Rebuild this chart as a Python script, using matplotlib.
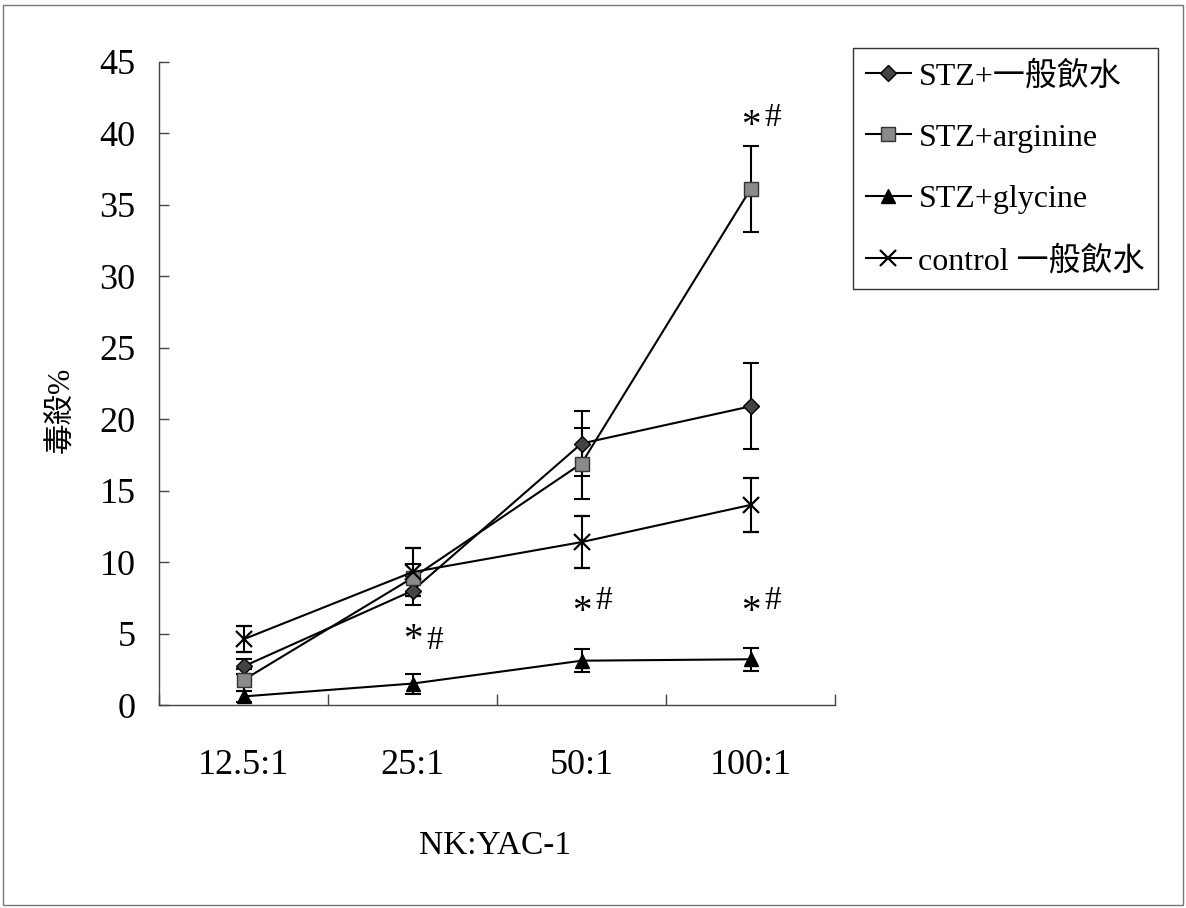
import matplotlib
matplotlib.use('Agg')
import matplotlib.pyplot as plt
from matplotlib.patches import Rectangle
from matplotlib.lines import Line2D

plt.rcParams['font.family'] = ['Liberation Serif', 'Noto Sans CJK TC']

ratios = ['12.5:1', '25:1', '50:1', '100:1']
stz_water = [2.7, 8.0, 18.3, 20.9]
stz_water_err = [0.5, 1.0, 2.3, 3.0]
stz_arg = [1.75, 8.9, 16.9, 36.1]
stz_arg_err = [0.8, 1.0, 2.5, 3.0]
stz_gly = [0.6, 1.5, 3.1, 3.2]
stz_gly_err = [0.4, 0.7, 0.8, 0.8]
control = [4.6, 9.3, 11.4, 14.0]
control_err = [0.9, 1.7, 1.8, 1.9]

# significance marks: (category index, y of "*", y of "#")
sig_marks = [(1, 4.5, 4.5), (2, 6.5, 7.3), (3, 6.5, 7.3), (3, 40.5, 41.1)]

fig = plt.figure(figsize=(11.86, 9.08), dpi=100)
ax = fig.add_axes([159 / 1186, 1 - 705 / 908, (835 - 159) / 1186, (705 - 62) / 908])

x = list(range(len(ratios)))
series = [
    (stz_water, stz_water_err, 'STZ+一般飲水', dict(marker='D', markersize=8, markerfacecolor='#444444', markeredgecolor='black')),
    (stz_arg, stz_arg_err, 'STZ+arginine', dict(marker='s', markersize=10, markerfacecolor='#8a8a8a', markeredgecolor='#333333')),
    (stz_gly, stz_gly_err, 'STZ+glycine', dict(marker='^', markersize=10, markerfacecolor='black', markeredgecolor='black')),
    (control, control_err, 'control 一般飲水', dict(marker='x', markersize=12, markeredgewidth=1.6, markeredgecolor='black')),
]
handles = []
for vals, errs, label, style in series:
    ax.errorbar(x, vals, yerr=errs, color='black', lw=1.5, capsize=6, capthick=1.5,
                elinewidth=1.5, **style)
    handles.append(Line2D([], [], color='black', lw=1.5, label=label, **style))

for i, ys, yh in sig_marks:
    ax.text(i, ys, '*', fontsize=28, ha='center', va='center')
    ax.text(i + 0.13, yh, '#', fontsize=24, ha='center', va='center')

ax.set_xlim(-0.5, 3.5)
ax.set_ylim(0, 45)
ax.set_yticks(range(0, 46, 5))
ax.set_xticks(x)
ax.set_xticklabels(ratios)
ax.set_xticks([-0.5, 0.5, 1.5, 2.5, 3.5], minor=True)
ax.tick_params(axis='x', which='major', length=0, pad=32, labelsize=26)
ax.tick_params(axis='x', which='minor', direction='in', length=8, width=1, color='#444444')
ax.tick_params(axis='y', direction='in', length=7, width=1, color='#444444', pad=17, labelsize=26)
for s in ['top', 'right']:
    ax.spines[s].set_visible(False)
for s in ['left', 'bottom']:
    ax.spines[s].set_color('#444444')
    ax.spines[s].set_linewidth(1)

fig.text(62 / 1186, 1 - 410 / 908, '毒殺%', rotation=90, fontsize=22, ha='center', va='center')
fig.text(495 / 1186, 1 - 846 / 908, 'NK:YAC-1', fontsize=24, ha='center', va='center')

leg = ax.legend(handles=handles, loc='upper left', bbox_to_anchor=(853 / 1186, 1 - 48 / 908),
                bbox_transform=fig.transFigure, fontsize=23, frameon=True, fancybox=False,
                edgecolor='black', borderaxespad=0, handlelength=1.4, handletextpad=0.25,
                labelspacing=1.0, borderpad=0.4)
leg.get_frame().set_linewidth(1)

fig.patches.append(Rectangle((3 / 1186, 3 / 908), 1180 / 1186, 900 / 908, transform=fig.transFigure,
                             fill=False, edgecolor='#777777', lw=1))

fig.savefig('out.png', dpi=100)
